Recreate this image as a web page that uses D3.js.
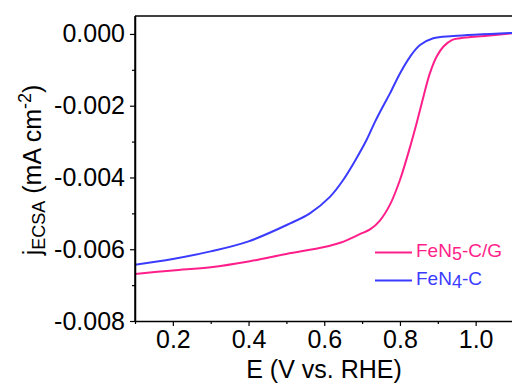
<!DOCTYPE html>
<html>
<head>
<meta charset="utf-8">
<script src="https://cdn.jsdelivr.net/npm/d3@7"></script>
<style>
  body { margin: 0; background: #fff; }
  svg text { font-family: "Liberation Sans", Arial, sans-serif; }
</style>
</head>
<body>
<script>
(function(){

//data (E in V vs RHE, j in mA cm-2 x 1e-3)
var fen5E = [0.10, 0.20, 0.30, 0.40, 0.50, 0.60, 0.642, 0.694, 0.722, 0.747, 0.774, 0.800, 0.827, 0.844, 0.862, 0.879, 0.897, 0.915, 0.937, 0.959, 1.03, 1.10];
var fen5J = [-6.69, -6.59, -6.50, -6.34, -6.13, -5.94, -5.82, -5.58, -5.44, -5.20, -4.75, -4.07, -3.14, -2.49, -1.75, -1.10, -0.63, -0.35, -0.17, -0.12, -0.05, 0.02];

var fen4E = [0.10, 0.20, 0.30, 0.40, 0.51, 0.562, 0.615, 0.650, 0.686, 0.712, 0.734, 0.755, 0.774, 0.800, 0.827, 0.853, 0.888, 0.941, 1.10];
var fen4J = [-6.43, -6.27, -6.06, -5.78, -5.28, -5.00, -4.54, -4.07, -3.45, -2.95, -2.45, -2.02, -1.65, -1.10, -0.63, -0.31, -0.12, -0.06, 0.03];

var seriesNames = ["FeN5-C/G", "FeN4-C"];
var seriesColors = ["#ff1f8a", "#3b3bff"];

var xTicks = [0.2, 0.4, 0.6, 0.8, 1.0];
var yTicks = [0, -0.002, -0.004, -0.006, -0.008];

var width = 512, height = 388;
var left = 135, top = 16, bottom = 321;

var svg = d3.select("body").append("svg")
    .attr("width", width)
    .attr("height", height);

//scales
var x = d3.scaleLinear().domain([0.1, 1.1]).range([left, left + 378.5]);
var y = d3.scaleLinear().domain([-0.008, 0.0005]).range([bottom, top]);

//clip so curves stay in the frame
svg.append("clipPath").attr("id", "plotclip")
    .append("rect")
    .attr("x", left).attr("y", top)
    .attr("width", width - left).attr("height", bottom - top);

function toPoints(es, js){
    return es.map(function(e, i){ return [e, js[i] / 1000]; });
}
var series = [toPoints(fen5E, fen5J), toPoints(fen4E, fen4J)];

var line = d3.line()
    .x(function(d){ return x(d[0]); })
    .y(function(d){ return y(d[1]); })
    .curve(d3.curveCatmullRom.alpha(0.5));

svg.append("g").attr("clip-path", "url(#plotclip)")
    .selectAll(".curve")
    .data(series)
    .enter()
    .append("path")
    .attr("class", "curve")
    .attr("d", line)
    .attr("fill", "none")
    .attr("stroke", function(d, i){ return seriesColors[i]; })
    .attr("stroke-width", 2);

//plain hyphen instead of unicode minus
var fmtX = d3.format(".1f");
var fmtY = function(d){ return d3.format(".3f")(d).replace("\u2212", "-"); };

//x axis with minor ticks
var xAxis = svg.append("g")
    .attr("transform", "translate(0," + bottom + ")")
    .call(d3.axisBottom(x).tickValues(xTicks).tickFormat(fmtX).tickSize(5).tickSizeOuter(0));
svg.append("g")
    .attr("transform", "translate(0," + bottom + ")")
    .call(d3.axisBottom(x).tickValues([0.1, 0.3, 0.5, 0.7, 0.9, 1.1]).tickFormat("").tickSize(3).tickSizeOuter(0))
    .select(".domain").remove();

//y axis with minor ticks
var yAxis = svg.append("g")
    .attr("transform", "translate(" + left + ",0)")
    .call(d3.axisLeft(y).tickValues(yTicks).tickFormat(fmtY).tickSize(5).tickSizeOuter(0));
svg.append("g")
    .attr("transform", "translate(" + left + ",0)")
    .call(d3.axisLeft(y).tickValues([-0.001, -0.003, -0.005, -0.007]).tickFormat("").tickSize(3).tickSizeOuter(0))
    .select(".domain").remove();

svg.selectAll(".domain").attr("stroke", "#000").attr("stroke-width", 1.5);
svg.selectAll(".tick line").attr("stroke", "#000").attr("stroke-width", 1.2);

xAxis.selectAll("text")
    .attr("font-size", 25)
    .attr("fill", "#000")
    .attr("y", 9);
yAxis.selectAll("text")
    .attr("font-size", 25)
    .attr("fill", "#000")
    .attr("x", -10);

//top and left frame lines
svg.append("line")
    .attr("x1", left).attr("x2", width)
    .attr("y1", top).attr("y2", top)
    .attr("stroke", "#000").attr("stroke-width", 1.5);
svg.append("line")
    .attr("x1", left).attr("x2", left)
    .attr("y1", top).attr("y2", bottom)
    .attr("stroke", "#000").attr("stroke-width", 1.5);

//axis titles
svg.append("text")
    .attr("x", 324)
    .attr("y", 378)
    .attr("text-anchor", "middle")
    .attr("font-size", 25)
    .text("E (V vs. RHE)");

var yTitle = svg.append("text")
    .attr("transform", "translate(41,170) rotate(-90)")
    .attr("text-anchor", "middle")
    .attr("font-size", 25);
yTitle.append("tspan").text("j");
yTitle.append("tspan").attr("font-size", 18).attr("dy", 4).text("ECSA");
yTitle.append("tspan").attr("dy", -4).text(" (mA cm");
yTitle.append("tspan").attr("font-size", 18).attr("dy", -10).text("-2");
yTitle.append("tspan").attr("dy", 10).text(")");

//legend
var legendSub = ["5", "4"];
var legendPre = ["FeN", "FeN"];
var legendPost = ["-C/G", "-C"];
var legend = svg.selectAll(".legend")
    .data(seriesNames)
    .enter()
    .append("g")
    .attr("class", "legend")
    .attr("transform", function(d, i){ return "translate(375," + (252.5 + i * 28) + ")"; });

legend.append("line")
    .attr("x1", 0).attr("x2", 37)
    .attr("y1", 0).attr("y2", 0)
    .attr("stroke", function(d, i){ return seriesColors[i]; })
    .attr("stroke-width", 2);

var legendText = legend.append("text")
    .attr("x", 41)
    .attr("y", 4)
    .attr("font-size", 19)
    .attr("fill", function(d, i){ return seriesColors[i]; });
legendText.append("tspan").text(function(d, i){ return legendPre[i]; });
legendText.append("tspan").attr("dy", 3).attr("font-size", 18).text(function(d, i){ return legendSub[i]; });
legendText.append("tspan").attr("dy", -3).text(function(d, i){ return legendPost[i]; });

})();
</script>
</body>
</html>
